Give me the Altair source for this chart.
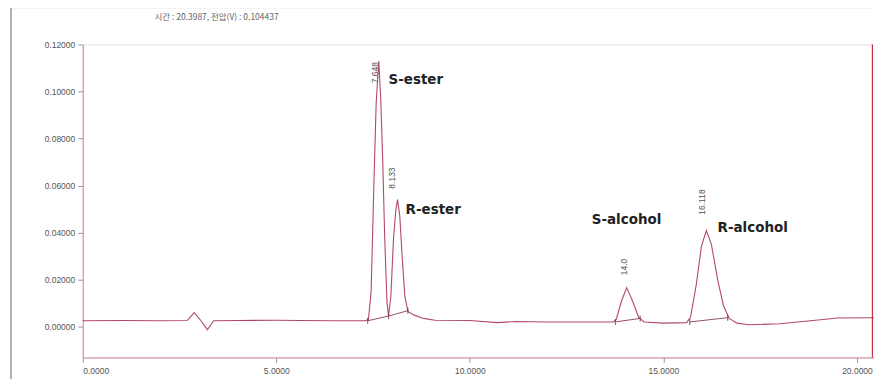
import altair as alt
import pandas as pd

# chromatogram trace (time in min, detector voltage)
time = [0.0, 1.0, 2.0, 2.7, 2.88, 3.05, 3.22, 3.38, 4.0, 5.0, 5.6, 6.5, 7.30, 7.38, 7.45,
        7.52, 7.58, 7.648, 7.70, 7.75, 7.80, 7.86, 7.90, 7.96, 8.03, 8.09, 8.133, 8.19,
        8.25, 8.32, 8.40, 8.55, 8.8, 9.1, 10.0, 10.7, 11.2, 12.0, 13.0, 13.70, 13.78,
        13.92, 14.05, 14.20, 14.36, 14.50, 15.0, 15.60, 15.70, 15.85, 15.98, 16.11,
        16.24, 16.40, 16.55, 16.70, 16.9, 17.2, 18.0, 18.8, 19.5, 20.44]
signal = [0.0025, 0.0026, 0.0025, 0.0026, 0.0060, 0.0026, -0.0013, 0.0025, 0.0026, 0.0027,
          0.0026, 0.0025, 0.0025, 0.0030, 0.0150, 0.0600, 0.0950, 0.1130, 0.0960, 0.0700,
          0.0380, 0.0100, 0.0047, 0.0130, 0.0380, 0.0500, 0.0540, 0.0470, 0.0300, 0.0130,
          0.0065, 0.0050, 0.0035, 0.0027, 0.0026, 0.0017, 0.0022, 0.0020, 0.0020, 0.0020,
          0.0030, 0.0110, 0.0166, 0.0110, 0.0040, 0.0020, 0.0015, 0.0017, 0.0040, 0.0180,
          0.0340, 0.0409, 0.0350, 0.0200, 0.0090, 0.0035, 0.0015, 0.0008, 0.0012, 0.0025,
          0.0037, 0.0038]

# integration baselines
base_group = ["A", "A", "A", "B", "B", "C", "C"]
base_time = [7.36, 7.90, 8.40, 13.76, 14.40, 15.68, 16.66]
base_value = [0.0025, 0.0045, 0.0068, 0.0020, 0.0035, 0.0020, 0.0038]

# retention-time labels
rt_text = ["7.648", "8.133", "14.0", "16.118"]
rt_time = [7.56, 7.98, 13.98, 16.0]
rt_value = [0.108, 0.0632, 0.0254, 0.053]

# compound names
name_text = ["S-ester", "R-ester", "S-alcohol", "R-alcohol"]
name_time = [7.90, 8.34, 13.15, 16.40]
name_value = [0.1047, 0.0495, 0.0454, 0.0420]

cursor_time = [20.3987]
title_text = ["시간 : 20.3987, 전압(V) : 0.104437"]

XMAX = 20.44
YMIN, YMAX = -0.0131, 0.12
TRACE = "#b24a66"
AXIS = "#cf8c9c"

trace_df = pd.DataFrame({"t": time, "v": signal})
base_df = pd.DataFrame({"g": base_group, "t": base_time, "v": base_value})
rt_df = pd.DataFrame({"label": rt_text, "t": rt_time, "v": rt_value})
name_df = pd.DataFrame({"label": name_text, "t": name_time, "v": name_value})
cur_df = pd.DataFrame({"t": cursor_time})
title_df = pd.DataFrame({"label": title_text})

xscale = alt.Scale(domain=[0, XMAX], nice=False, zero=False)
yscale = alt.Scale(domain=[YMIN, YMAX], nice=False, zero=False)

xaxis = alt.Axis(values=[0, 5, 10, 15, 20], format=".4f", title=None, grid=False,
                 labelFontSize=8.5, labelColor="#555", labelFont="Liberation Sans",
                 tickColor="#999", tickSize=5, domainColor=AXIS, labelPadding=4)
yaxis = alt.Axis(values=[0, 0.02, 0.04, 0.06, 0.08, 0.10, 0.12], format=".5f", title=None,
                 grid=False, labelFontSize=8.5, labelColor="#555", labelFont="Liberation Sans",
                 tickColor="#999", tickSize=5, domainColor=AXIS, labelPadding=3)

trace = alt.Chart(trace_df).mark_line(color=TRACE, strokeWidth=1.1).encode(
    x=alt.X("t:Q", scale=xscale, axis=xaxis),
    y=alt.Y("v:Q", scale=yscale, axis=yaxis),
    order="t:Q",
)

baselines = alt.Chart(base_df).mark_line(color="#8a3a50", strokeWidth=0.9).encode(
    x=alt.X("t:Q", scale=xscale),
    y=alt.Y("v:Q", scale=yscale),
    detail="g:N",
)

bounds = alt.Chart(base_df).mark_tick(color="#6a2a3a", size=6, thickness=1.2,
                                      orient="vertical").encode(
    x=alt.X("t:Q", scale=xscale),
    y=alt.Y("v:Q", scale=yscale),
)

rt_labels = alt.Chart(rt_df).mark_text(angle=270, fontSize=8.5, color="#555",
                                       font="Liberation Sans").encode(
    x=alt.X("t:Q", scale=xscale),
    y=alt.Y("v:Q", scale=yscale),
    text="label:N",
)

names = alt.Chart(name_df).mark_text(align="left", baseline="middle", fontSize=13.5,
                                     fontWeight="bold", color="#222",
                                     font="DejaVu Sans").encode(
    x=alt.X("t:Q", scale=xscale),
    y=alt.Y("v:Q", scale=yscale),
    text="label:N",
)

cursor = alt.Chart(cur_df).mark_rule(color="#c0304a", strokeWidth=1.2).encode(
    x=alt.X("t:Q", scale=xscale),
)

header = alt.Chart(title_df).mark_text(align="left", baseline="middle", fontSize=8.5,
                                       color="#666", font="Noto Sans CJK KR").encode(
    x=alt.value(72), y=alt.value(-28), text="label:N")

frame_left = alt.Chart(cur_df).mark_rule(color="#999", strokeWidth=1.5).encode(
    x=alt.value(-72), y=alt.value(-37), y2=alt.value(345))
frame_top = alt.Chart(cur_df).mark_rule(color="#aaa", strokeWidth=1).encode(
    x=alt.value(-72), x2=alt.value(800), y=alt.value(-37))

chart = alt.layer(frame_left, frame_top, header, baselines, trace, bounds, cursor,
                  rt_labels, names).properties(
    width=794, height=314,
    autosize=alt.AutoSizeParams(type="none"),
    padding={"left": 75, "top": 36, "right": 0, "bottom": 21},
).configure_view(stroke=AXIS, strokeWidth=1).configure(background="white")

chart.save("out.html", embed_options={"renderer": "svg", "actions": False})
